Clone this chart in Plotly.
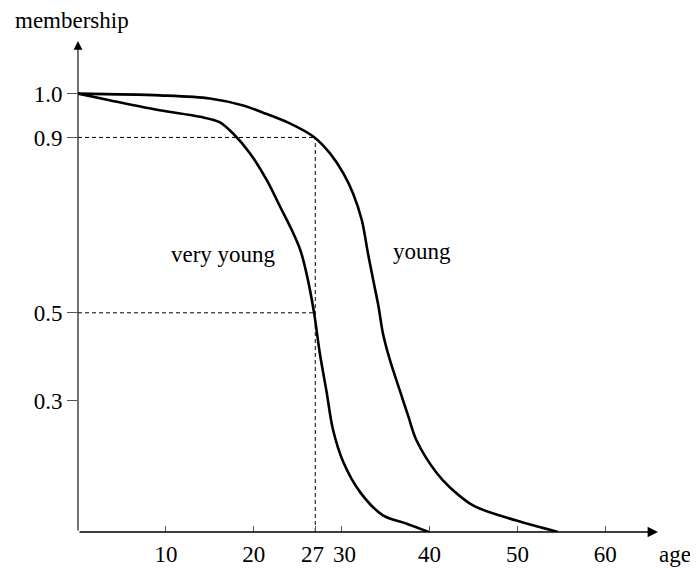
import plotly.graph_objects as go

# Data
young_age = [0, 9.3, 15, 18.8, 21, 24.1, 26.85, 28.7, 30.2, 31.3, 32.3, 33.0, 33.6, 34.2, 34.7,
             35.5, 36.6, 37.6, 38.5, 40.8, 42.3, 45, 49.9, 54.6]
young_mem = [1.0, 0.996, 0.989, 0.973, 0.957, 0.932, 0.901, 0.863, 0.818, 0.772, 0.711, 0.635, 0.574, 0.514, 0.453,
             0.392, 0.324, 0.263, 0.21, 0.135, 0.102, 0.06, 0.026, 0.0]

very_young_age = [0, 3.6, 9.3, 13.9, 16.1, 17.65, 19.6, 21.5, 23.0, 24.3, 25.3, 26.0, 26.85, 27.5, 28.3,
                  29.0, 30.2, 32.1, 34.7, 37.4, 39.9]
very_young_mem = [1.0, 0.985, 0.962, 0.947, 0.935, 0.909, 0.863, 0.802, 0.742, 0.69, 0.643, 0.59, 0.502, 0.41, 0.318,
                  0.235, 0.159, 0.091, 0.038, 0.019, 0.0]

x_ticks = [10, 20, 27, 30, 40, 50, 60]
x_tick_labels = ["10", "20", "27\u00a0", "\u00a030", "40", "50", "60"]
y_ticks = [0.3, 0.5, 0.9, 1.0]
y_tick_labels = ["0.3", "0.5", "0.9", "1.0"]

marker_age = 27
marker_levels = [0.9, 0.5]

X_MAX = 66
Y_MAX = 1.12

FONT = "Liberation Serif, Times New Roman, serif"
FS = 23

fig = go.Figure()

# dashed guide lines
for lvl in marker_levels:
    fig.add_trace(go.Scatter(x=[0, marker_age], y=[lvl, lvl], mode="lines",
                             line=dict(color="black", width=1, dash="4px,3px"),
                             hoverinfo="skip", showlegend=False))
fig.add_trace(go.Scatter(x=[marker_age, marker_age], y=[0, max(marker_levels)], mode="lines",
                         line=dict(color="black", width=1, dash="4px,3px"),
                         hoverinfo="skip", showlegend=False))

fig.add_trace(go.Scatter(x=young_age, y=young_mem, mode="lines",
                         line=dict(color="black", width=2.6, shape="spline", smoothing=0.9),
                         name="young", showlegend=False))
fig.add_trace(go.Scatter(x=very_young_age, y=very_young_mem, mode="lines",
                         line=dict(color="black", width=2.6, shape="spline", smoothing=0.9),
                         name="very young", showlegend=False))

axis_color = "#555555"

# axes with arrows
fig.add_annotation(x=X_MAX, y=0, ax=0, ay=0, xref="x", yref="y", axref="x", ayref="y",
                   showarrow=True, arrowhead=2, arrowsize=1.6, arrowwidth=1.3,
                   arrowcolor="black", text="", standoff=0)
fig.add_annotation(x=0, y=Y_MAX, ax=0, ay=0, xref="x", yref="y", axref="x", ayref="y",
                   showarrow=True, arrowhead=2, arrowsize=1.6, arrowwidth=1.1,
                   arrowcolor="black", text="", standoff=0)

fig.add_annotation(text="membership", xref="paper", yref="paper", x=-0.112, y=1.041,
                   xanchor="left", yanchor="middle", showarrow=False,
                   font=dict(family=FONT, size=FS, color="black"))
fig.add_annotation(text="age", xref="paper", yref="paper", x=1.03, y=-0.045,
                   xanchor="center", yanchor="middle", showarrow=False,
                   font=dict(family=FONT, size=FS, color="black"))
fig.add_annotation(text="very young", xref="x", yref="y", x=16.6, y=0.632,
                   xanchor="center", yanchor="middle", showarrow=False,
                   font=dict(family=FONT, size=FS, color="black"))
fig.add_annotation(text="young", xref="x", yref="y", x=39.2, y=0.639,
                   xanchor="center", yanchor="middle", showarrow=False,
                   font=dict(family=FONT, size=FS, color="black"))

fig.update_xaxes(range=[0, X_MAX], showgrid=False, zeroline=False, showline=False,
                 automargin=False, tickangle=0,
                 tickmode="array", tickvals=x_ticks, ticktext=x_tick_labels,
                 ticks="inside", ticklen=6, tickwidth=1, tickcolor=axis_color,
                 ticklabelstandoff=6,
                 tickfont=dict(family=FONT, size=FS, color="black"))
fig.update_yaxes(range=[0, Y_MAX], showgrid=False, zeroline=False, showline=False,
                 automargin=False,
                 tickmode="array", tickvals=y_ticks, ticktext=y_tick_labels,
                 ticks="outside", ticklen=10, tickwidth=1, tickcolor=axis_color,
                 ticklabelstandoff=0,
                 tickfont=dict(family=FONT, size=FS, color="black"))

# page body has an 8px margin, so the figure is drawn 8px smaller and offset
fig.update_layout(width=690, height=560, margin=dict(l=70, r=40, t=33, b=36),
                  plot_bgcolor="white", paper_bgcolor="white")

fig.write_html("out.html")
